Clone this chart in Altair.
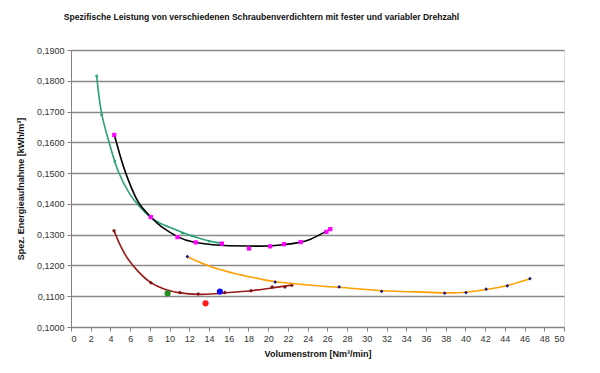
import altair as alt
import pandas as pd

# --- data ---
teal_x = [2.6, 3.1, 4.45, 8.1, 11.3, 12.3, 14.0, 15.2]
teal_y = [0.1816, 0.1689, 0.1538, 0.1357, 0.1305, 0.1296, 0.1279, 0.1272]
teal_curve_x = [2.6, 3.1, 3.95, 4.8, 6.0, 7.0, 7.85, 9.0, 10.4, 11.7, 13.8, 15.45]
teal_curve_y = [0.1816, 0.1695, 0.1590, 0.1505, 0.1430, 0.1390, 0.1362, 0.1338, 0.1319, 0.1302, 0.1281, 0.1271]

pink_x = [4.39, 8.1, 10.8, 12.65, 15.3, 18.05, 20.2, 21.6, 23.3, 25.9, 26.3]
pink_y = [0.1624, 0.1357, 0.1292, 0.1275, 0.1271, 0.1255, 0.1262, 0.1269, 0.1276, 0.1309, 0.1318]
black_curve_x = [4.4, 5.0, 5.55, 6.2, 7.0, 8.18, 9.2, 10.9, 12.4, 14.4, 16.0, 18.0, 20.0, 21.5, 23.2, 24.3, 25.25, 26.3]
black_curve_y = [0.1624, 0.1555, 0.1500, 0.1447, 0.1397, 0.1355, 0.1325, 0.1292, 0.1276, 0.1267, 0.1264, 0.1263, 0.1263, 0.1267, 0.1275, 0.1285, 0.1300, 0.1318]

maroon_x = [4.36, 8.1, 11.05, 12.9, 15.6, 18.25, 20.4, 21.7, 22.4]
maroon_y = [0.1313, 0.1144, 0.1112, 0.1107, 0.1112, 0.1118, 0.1130, 0.1130, 0.1136]
maroon_curve_x = [4.36, 5.0, 5.8, 6.83, 8.1, 9.5, 11.05, 12.9, 14.5, 15.6, 18.25, 20.4, 22.4]
maroon_curve_y = [0.1313, 0.1265, 0.1220, 0.1180, 0.1144, 0.1123, 0.1111, 0.1106, 0.1108, 0.1111, 0.1118, 0.1127, 0.1136]

navy_x = [11.8, 20.7, 27.2, 31.5, 37.9, 40.06, 42.1, 44.25, 46.55]
navy_y = [0.1229, 0.1146, 0.1130, 0.1116, 0.1110, 0.1112, 0.1123, 0.1134, 0.1157]
orange_curve_x = [11.8, 14.0, 16.6, 19.2, 21.0, 25.25, 27.2, 31.5, 35.0, 37.9, 40.0, 42.1, 44.25, 46.55]
orange_curve_y = [0.1228, 0.1198, 0.1174, 0.1156, 0.1146, 0.1133, 0.1129, 0.1118, 0.1114, 0.1111, 0.1113, 0.1122, 0.1135, 0.1157]

single_x = [9.8, 15.1, 13.65]
single_y = [0.1109, 0.1115, 0.1077]
single_c = ["#1f8f1f", "#1010ff", "#ff1a1a"]

y_ticks = [0.10, 0.11, 0.12, 0.13, 0.14, 0.15, 0.16, 0.17, 0.18, 0.19]
x_ticks = list(range(0, 51, 2))

FONT = "Liberation Sans"

xs = alt.Scale(domain=[0, 50], nice=False)
ys = alt.Scale(domain=[0.10, 0.19], nice=False)

def df(x, y):
    return pd.DataFrame({"x": x, "y": y})

X = alt.X("x:Q", scale=xs, axis=alt.Axis(
    values=x_ticks, grid=False, title="Volumenstrom [Nm³/min]",
    labelFont=FONT, labelFontSize=9, labelColor="#333333",
    titleFont=FONT, titleFontSize=9, titleFontWeight="bold", titleColor="#111111",
    titlePadding=6, domainColor="#808080", tickColor="#808080", tickSize=4,
    labelPadding=3))
Y = alt.Y("y:Q", scale=ys, axis=alt.Axis(
    values=y_ticks, title="Spez. Energieaufnahme [kWh/m³]",
    labelExpr="replace(format(datum.value, '.4f'), '.', ',')",
    labelFont=FONT, labelFontSize=9, labelColor="#333333",
    titleFont=FONT, titleFontSize=9, titleFontWeight="bold", titleColor="#111111",
    titlePadding=11, grid=True, gridColor="#8a8a8a", gridWidth=1.5,
    domainColor="#808080", tickColor="#808080", tickSize=4, labelPadding=3))

def curve(x, y, color, width=1.6):
    return alt.Chart(df(x, y)).mark_line(
        color=color, strokeWidth=width, interpolate="natural").encode(x=X, y=Y)

def pts(x, y, color, shape, size):
    return alt.Chart(df(x, y)).mark_point(
        color=color, fill=color, filled=True, shape=shape, size=size, opacity=1).encode(x=X, y=Y)

layers = [
    curve(teal_curve_x, teal_curve_y, "#2aa273"),
    pts(teal_x, teal_y, "#2aa273", "square", 6),
    curve(black_curve_x, black_curve_y, "#000000"),
    pts(pink_x, pink_y, "#ff00ff", "square", 18),
    curve(maroon_curve_x, maroon_curve_y, "#991a1a"),
    pts(maroon_x, maroon_y, "#7a1010", "diamond", 16),
    curve(orange_curve_x, orange_curve_y, "#ffa000"),
    pts(navy_x, navy_y, "#1a1a80", "diamond", 14),
    alt.Chart(pd.DataFrame({"x": single_x, "y": single_y, "c": single_c})).mark_circle(
        size=38, opacity=1).encode(x=X, y=Y, color=alt.Color("c:N", scale=None)),
]

chart = alt.layer(*layers).properties(
    width=493, height=277,
    title=alt.TitleParams(
        "Spezifische Leistung von verschiedenen Schraubenverdichtern mit fester und variabler Drehzahl",
        font=FONT, fontSize=8.6, fontWeight="bold", color="#111111",
        anchor="middle", dx=-56, offset=24),
    autosize=alt.AutoSizeParams(type="none"),
    padding={"left": 63, "top": 42, "right": 28, "bottom": 38},
).configure_view(stroke="#808080", strokeWidth=1).configure(background="white")

chart.save("out.html", embed_options={"renderer": "svg", "actions": False})
